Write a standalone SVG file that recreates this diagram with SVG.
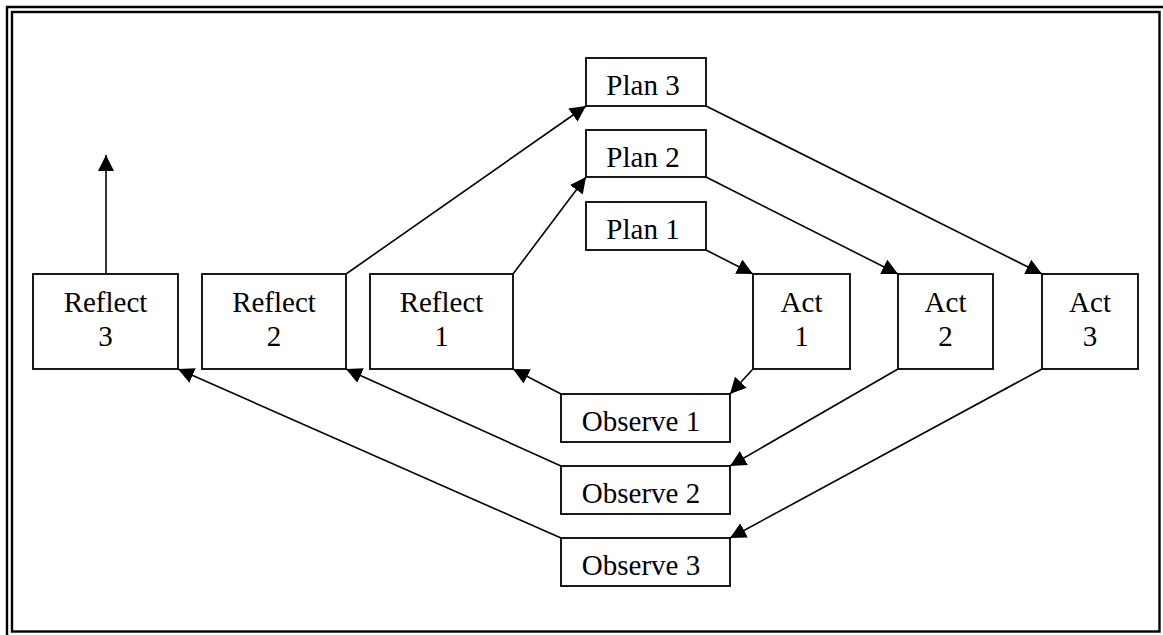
<svg xmlns="http://www.w3.org/2000/svg" width="1163" height="635" viewBox="0 0 1163 635">
<style>
.box{fill:#fff;stroke:#000;stroke-width:1.8}
.t{font-family:"Liberation Serif","Times New Roman",serif;font-size:29px;fill:#000;text-anchor:middle}
.c{fill:none;stroke:#000;stroke-width:1.6}
.arr{marker-end:url(#ah)}
.frame{fill:none;stroke:#000;stroke-width:2.4}
</style>
<defs>
<marker id="ah" markerUnits="userSpaceOnUse" markerWidth="17" markerHeight="17" refX="16" refY="8" orient="auto">
<path d="M0,0 L16,8 L0,16 Z" fill="#000"/>
</marker>
</defs>
<rect width="1163" height="635" fill="#fff"/>
<g id="frame">
<line class="frame" x1="6" y1="7" x2="1163" y2="7"/>
<line class="frame" x1="7" y1="6" x2="7" y2="635"/>
<rect class="frame" x="12" y="12" width="1147.5" height="619.5"/>
</g>
<g id="connectors">
<line class="c arr" x1="706" y1="250" x2="753" y2="274"/>
<line class="c arr" x1="706" y1="177" x2="898" y2="274"/>
<line class="c arr" x1="706" y1="106" x2="1042" y2="274"/>
<line class="c arr" x1="753" y1="369" x2="730" y2="394"/>
<line class="c arr" x1="898" y1="369" x2="730" y2="466"/>
<line class="c arr" x1="1042" y1="369" x2="730" y2="538"/>
<line class="c arr" x1="561" y1="394" x2="513" y2="369"/>
<line class="c arr" x1="561" y1="466" x2="346" y2="369"/>
<line class="c arr" x1="561" y1="538" x2="178" y2="369"/>
<line class="c arr" x1="513" y1="274" x2="586" y2="177"/>
<line class="c arr" x1="346" y1="274" x2="586" y2="106"/>
<line class="c arr" x1="106" y1="274" x2="106" y2="155"/>
</g>
<g id="plan3"><rect class="box" x="586" y="58" width="120" height="48"/><text class="t" x="643" y="95">Plan 3</text></g>
<g id="plan2"><rect class="box" x="586" y="130" width="120" height="47"/><text class="t" x="643" y="167">Plan 2</text></g>
<g id="plan1"><rect class="box" x="586" y="202" width="120" height="48"/><text class="t" x="643" y="239">Plan 1</text></g>
<g id="reflect3"><rect class="box" x="33" y="274" width="145" height="95"/><text class="t" x="105.5" y="312">Reflect</text><text class="t" x="105.5" y="346">3</text></g>
<g id="reflect2"><rect class="box" x="202" y="274" width="144" height="95"/><text class="t" x="274" y="312">Reflect</text><text class="t" x="274" y="346">2</text></g>
<g id="reflect1"><rect class="box" x="370" y="274" width="143" height="95"/><text class="t" x="441.5" y="312">Reflect</text><text class="t" x="441.5" y="346">1</text></g>
<g id="act1"><rect class="box" x="753" y="274" width="97" height="95"/><text class="t" x="801.5" y="312">Act</text><text class="t" x="801.5" y="346">1</text></g>
<g id="act2"><rect class="box" x="898" y="274" width="95" height="95"/><text class="t" x="945.5" y="312">Act</text><text class="t" x="945.5" y="346">2</text></g>
<g id="act3"><rect class="box" x="1042" y="274" width="96" height="95"/><text class="t" x="1090" y="312">Act</text><text class="t" x="1090" y="346">3</text></g>
<g id="observe1"><rect class="box" x="561" y="394" width="169" height="48"/><text class="t" x="641" y="431">Observe 1</text></g>
<g id="observe2"><rect class="box" x="561" y="466" width="169" height="48"/><text class="t" x="641" y="503">Observe 2</text></g>
<g id="observe3"><rect class="box" x="561" y="538" width="169" height="48"/><text class="t" x="641" y="575">Observe 3</text></g>
</svg>
